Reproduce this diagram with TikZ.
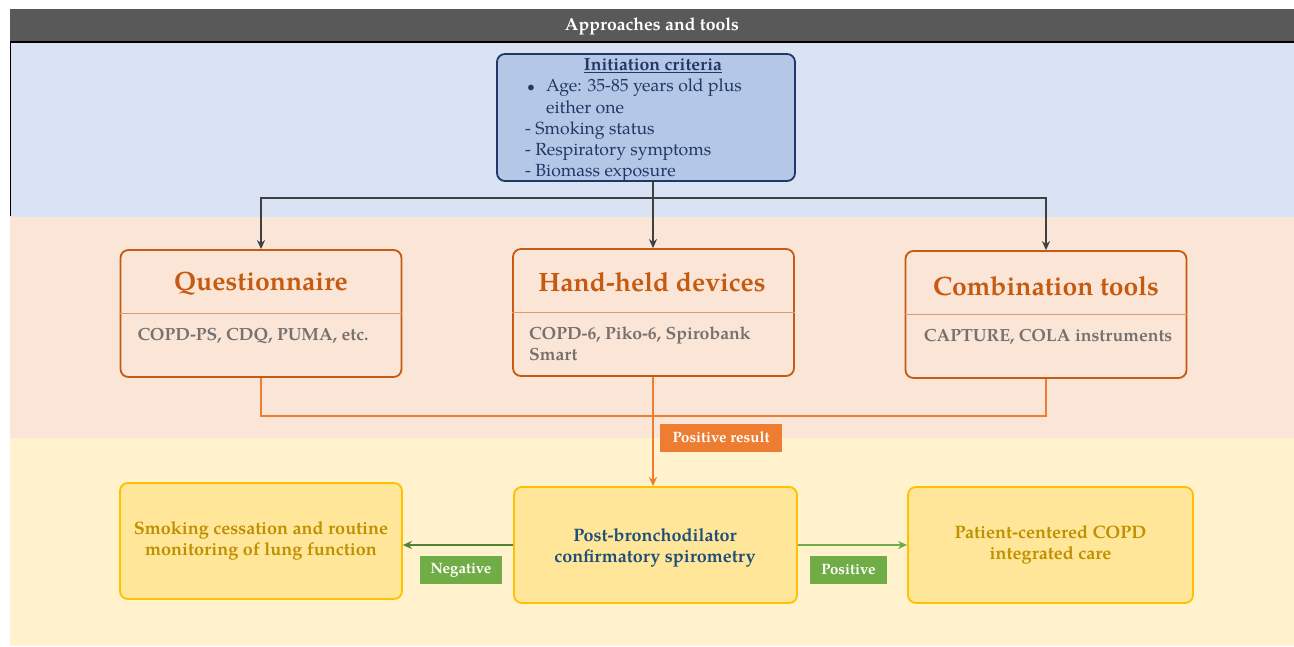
\documentclass[tikz,border=0pt]{standalone}
\usepackage{fontspec}
\setmainfont{TeX Gyre Pagella}
\usetikzlibrary{positioning,arrows.meta}

\definecolor{headgray}{HTML}{595959}
\definecolor{bandblue}{HTML}{DAE3F3}
\definecolor{bandpeach}{HTML}{FBE5D6}
\definecolor{bandyellow}{HTML}{FFF2CC}
\definecolor{critfill}{HTML}{B4C7E7}
\definecolor{critnavy}{HTML}{1F3864}
\definecolor{toolorange}{HTML}{C55A11}
\definecolor{lineorange}{HTML}{ED7D31}
\definecolor{toolgray}{HTML}{767171}
\definecolor{spirofill}{HTML}{FFE699}
\definecolor{spirodraw}{HTML}{FFC000}
\definecolor{spironavy}{HTML}{1F4E79}
\definecolor{golden}{HTML}{BF9000}
\definecolor{darkgreen}{HTML}{548235}
\definecolor{lightgreen}{HTML}{70AD47}

\tikzset{
  toolbox/.style={draw=toolorange, line width=1.8pt, rounded corners=8pt,
    minimum width=281pt, minimum height=127pt, inner sep=0pt},
  tooltitle/.style={text=toolorange, font=\fontsize{26.5}{30}\selectfont\bfseries, inner sep=0pt},
  tooltext/.style={text=toolgray, font=\fontsize{17.6}{21}\selectfont\bfseries, inner sep=0pt, align=left},
  divider/.style={draw=toolorange!60, line width=1pt},
  spirobox/.style={draw=spirodraw, fill=spirofill, line width=1.8pt, rounded corners=8pt,
    minimum width=283pt, minimum height=116pt, inner sep=0pt,
    font=\fontsize{18}{21.5}\selectfont\bfseries, align=center},
  tag/.style={text=white, font=\fontsize{15}{18}\selectfont\bfseries,
    minimum height=28pt, inner sep=0pt},
}

\begin{document}
\begin{tikzpicture}[x=1pt,y=-1pt,>={Stealth[length=9pt,width=8pt]}]
        \useasboundingbox (0,0) rectangle (1294,646);

        %%%%%%%%%% Sfondo %%%%%%%%%%
        \fill[bandblue] (10,43) rectangle (1294,217);
        \fill[bandpeach] (10,217) rectangle (1294,438);
        \fill[bandyellow] (10,438) rectangle (1294,646);
        \draw[black, line width=1pt] (10.5,43) -- (10.5,216);
        \draw[black, line width=2pt] (10,42) -- (1294,42);

        %%%%%%%%%% Nodi %%%%%%%%%%
        \node[fill=headgray, minimum width=1284pt, minimum height=32pt, inner sep=0pt] (head) at (652,25) {};
        \node[text=white, inner sep=0pt, font=\fontsize{17.6}{20}\selectfont\bfseries] (headT) at (652,26.5)
          {Approaches and tools};

        \node[draw=critnavy, fill=critfill, line width=1.8pt, rounded corners=8pt,
          minimum width=298pt, minimum height=127pt] (init) at (646,117.5) {};
        \node[text=critnavy, inner sep=0pt, font=\fontsize{17.6}{20}\selectfont\bfseries] (initT) at (653,66)
          {\underline{Initiation criteria}};
        \node[text=critnavy, inner sep=0pt, anchor=north west, align=left,
          font=\fontsize{17.6}{21.2}\selectfont] (initL) at (525,79)
          {\makebox[21pt][l]{\hspace{2pt}{\fontsize{14}{14}\selectfont\textbullet}}Age: 35-85 years old plus\\
           \hspace*{21pt}either one\\
           - Smoking status\\
           - Respiratory symptoms\\
           - Biomass exposure};

        \node[toolbox] (Q) at (261,313.5) {};
        \node[toolbox] (H) at (653.5,312.5) {};
        \node[toolbox] (C) at (1046,314.5) {};
        \node[tooltitle] (Qt) at (261,284) {Questionnaire};
        \node[tooltitle] (Ht) at (652,282) {Hand-held devices};
        \node[tooltitle] (Ct) at (1046,286) {Combination tools};
        \node[tooltext] (Qb) at (253,336) {COPD-PS, CDQ, PUMA, etc.};
        \node[tooltext, anchor=west] (Hb) at (529,344) {COPD-6, Piko-6, Spirobank\\Smart};
        \node[tooltext] (Cb) at (1048,337) {CAPTURE, COLA instruments};

        \node[spirobox] (post) at (655.5,545) {};
        \node[text=spironavy, inner sep=0pt, align=center, font=\fontsize{18}{21.5}\selectfont\bfseries] (postT) at (655,548)
          {Post-bronchodilator\\confirmatory spirometry};
        \node[spirobox, text=golden, minimum width=282pt] (neg) at (261,541) {Smoking cessation and routine\\monitoring of lung function};
        \node[spirobox, text=golden, minimum width=285pt] (pos) at (1050.5,545) {Patient-centered COPD\\integrated care};

        \node[tag, fill=lineorange, minimum width=122pt] (resT) at (721,437.5) {Positive result};
        \node[tag, fill=lightgreen, minimum width=82pt] (negT) at (461,570) {Negative};
        \node[tag, fill=lightgreen, minimum width=77pt] (posT) at (848.5,570) {Positive};

        \coordinate (split) at (653,198);
        \coordinate (merge) at (653,416);

        %%%%%%%%% Archi %%%%%%%%%%
        \draw[divider] (Q.west) -- (Q.east);
        \draw[divider] (H.west) -- (H.east);
        \draw[divider] (C.west) -- (C.east);
        \draw[line width=1.3pt, black!75] (init.south -| split) -- (split);
        \draw[->, line width=1.3pt, black!75] (split) -- (H.north -| split);
        \draw[->, line width=1.3pt, black!75] (split) -| (Q.north);
        \draw[->, line width=1.3pt, black!75] (split) -| (C.north);
        \draw[line width=1.8pt, lineorange] (Q.south) |- (merge);
        \draw[line width=1.8pt, lineorange] (C.south) |- (merge);
        \draw[->, line width=1.8pt, lineorange] (H.south -| merge) -- (post.north -| merge);
        \draw[->, line width=1.8pt, darkgreen] (post.west) -- (post.west -| neg.east);
        \draw[->, line width=1.8pt, lightgreen] (post.east) -- (post.east -| pos.west);
\end{tikzpicture}
\end{document}
